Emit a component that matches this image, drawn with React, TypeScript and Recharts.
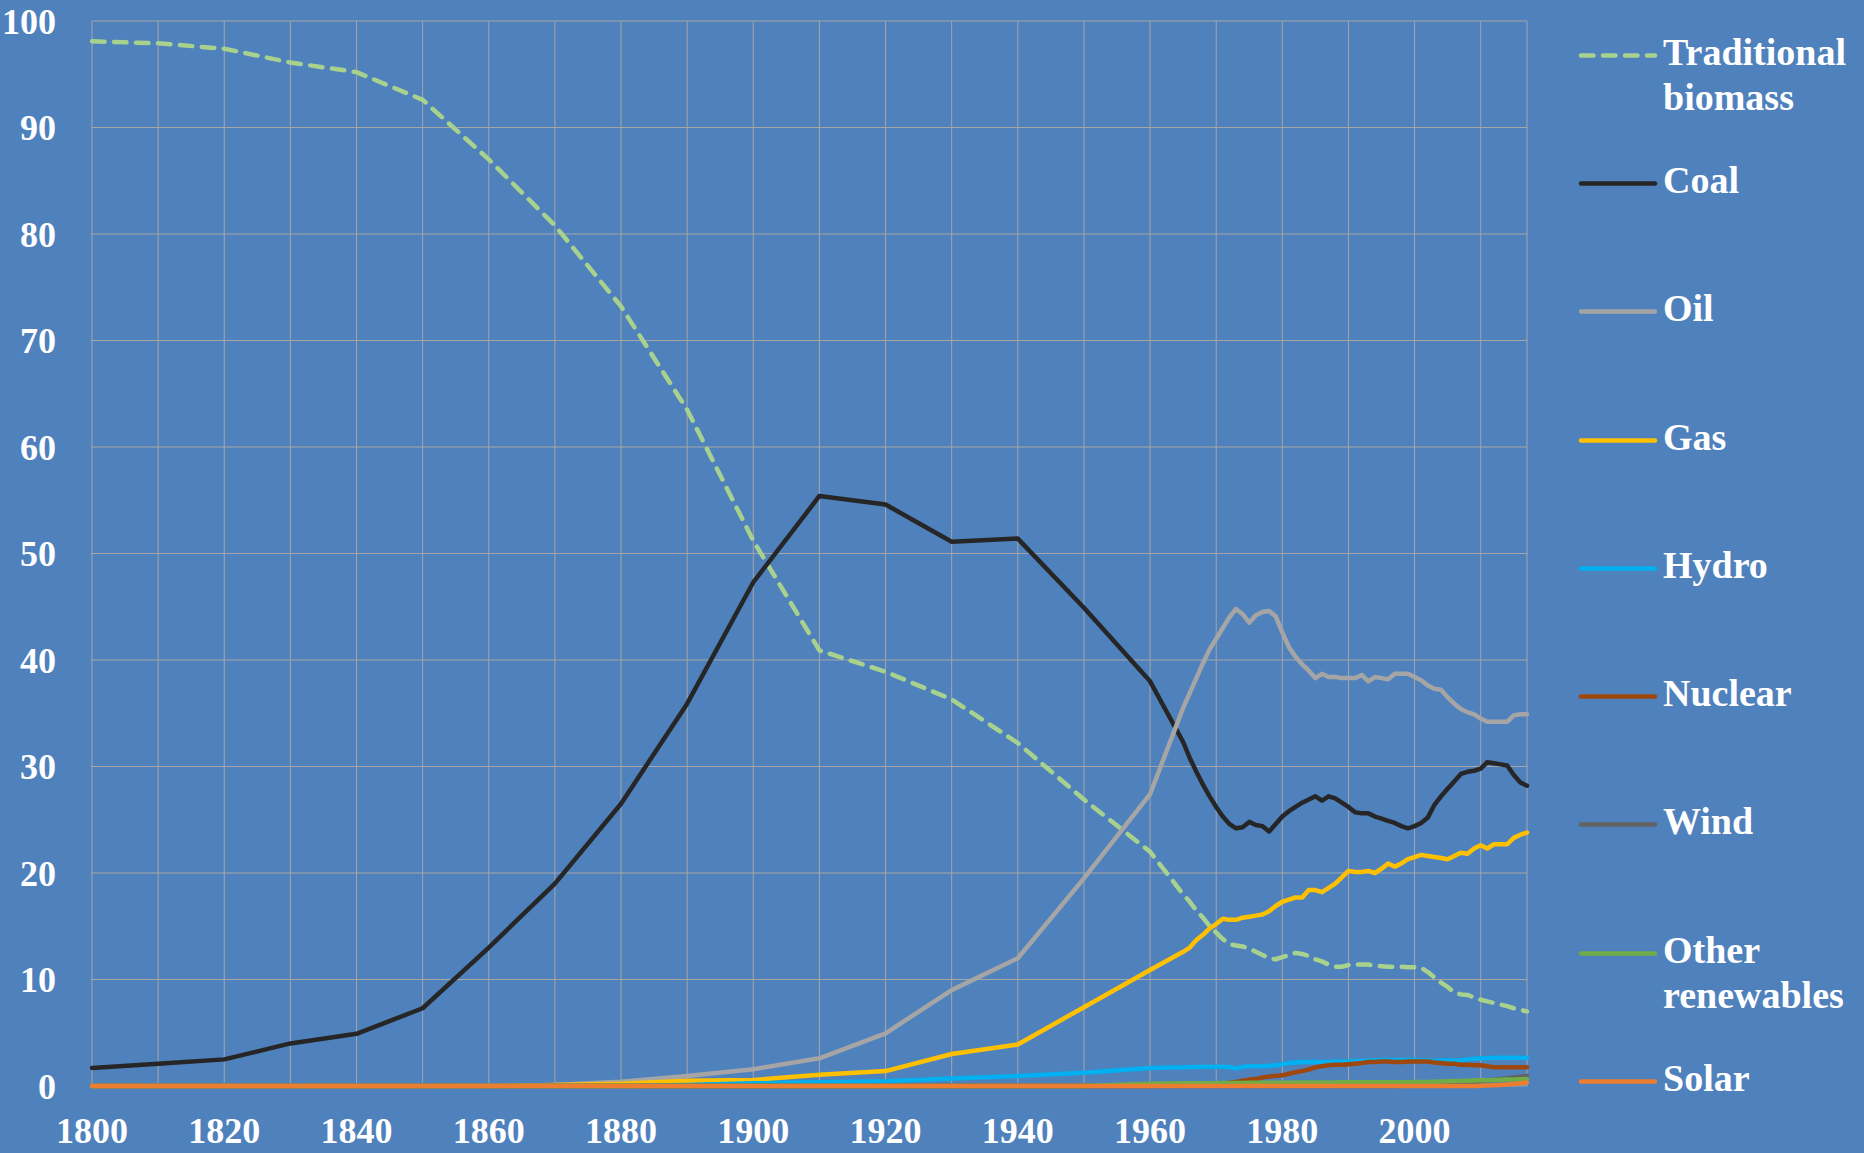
import { LineChart, Line, XAxis, YAxis, CartesianGrid } from 'recharts';

// decades 1800-1960, then annual 1965-2017
const years = [
  1800, 1810, 1820, 1830, 1840, 1850, 1860, 1870, 1880, 1890, 1900, 1910, 1920, 1930, 1940, 1950, 1960,
  1965, 1966, 1967, 1968, 1969, 1970, 1971, 1972, 1973, 1974,
  1975, 1976, 1977, 1978, 1979, 1980, 1981, 1982, 1983, 1984,
  1985, 1986, 1987, 1988, 1989, 1990, 1991, 1992, 1993, 1994,
  1995, 1996, 1997, 1998, 1999, 2000, 2001, 2002, 2003, 2004,
  2005, 2006, 2007, 2008, 2009, 2010, 2011, 2012, 2013, 2014,
  2015, 2016, 2017,
];

const biomass = [
  98.1, 97.9, 97.4, 96.1, 95.2, 92.6, 87.0, 80.8, 73.2, 63.5, 51.2, 40.9, 38.9, 36.3, 32.2, 26.9, 22.0,
  18.0, 17.3, 16.5, 15.8, 15.0, 14.4, 13.8, 13.3, 13.2, 13.1,
  12.9, 12.6, 12.3, 12.0, 11.9, 12.1, 12.3, 12.5, 12.4, 12.2,
  11.9, 11.7, 11.4, 11.2, 11.2, 11.35, 11.4, 11.4, 11.4, 11.3,
  11.25, 11.2, 11.2, 11.2, 11.15, 11.15, 11.1, 10.7, 10.2, 9.7,
  9.3, 8.8, 8.6, 8.55, 8.3, 8.1, 7.95, 7.8, 7.65, 7.5,
  7.3, 7.15, 7.0,
];

const coal = [
  1.7, 2.1, 2.5, 4.0, 4.9, 7.3, 13.0, 19.0, 26.5, 35.9, 47.3, 55.4, 54.6, 51.1, 51.4, 44.9, 38.0,
  32.3, 30.8, 29.5, 28.3, 27.2, 26.2, 25.3, 24.6, 24.2, 24.3,
  24.8, 24.5, 24.4, 23.9, 24.6, 25.3, 25.8, 26.2, 26.6, 26.9,
  27.2, 26.8, 27.2, 27.0, 26.6, 26.2, 25.7, 25.6, 25.6, 25.3,
  25.1, 24.9, 24.7, 24.4, 24.2, 24.4, 24.7, 25.2, 26.4, 27.2,
  27.9, 28.6, 29.3, 29.5, 29.6, 29.8, 30.4, 30.3, 30.2, 30.1,
  29.2, 28.5, 28.2,
];

const oil = [
  0, 0, 0, 0, 0, 0, 0.02, 0.1, 0.4, 0.94, 1.57, 2.6, 4.95, 9.0, 12.0, 19.5, 27.4,
  35.5, 36.9, 38.3, 39.7, 41.0, 42.0, 43.0, 44.0, 44.8, 44.3,
  43.5, 44.2, 44.5, 44.6, 44.1, 42.6, 41.2, 40.3, 39.6, 39.0,
  38.3, 38.7, 38.4, 38.4, 38.3, 38.3, 38.3, 38.6, 38.0, 38.4,
  38.3, 38.2, 38.7, 38.7, 38.7, 38.4, 38.1, 37.6, 37.3, 37.2,
  36.5, 35.9, 35.4, 35.1, 34.9, 34.5, 34.2, 34.2, 34.2, 34.2,
  34.8, 34.9, 34.9,
];

const gas = [
  0, 0, 0, 0, 0, 0, 0, 0.1, 0.2, 0.5, 0.56, 1.06, 1.4, 3.0, 3.9, 7.4, 10.9,
  12.6, 13.0, 13.7, 14.2, 14.8, 15.2, 15.7, 15.6, 15.6, 15.8,
  15.9, 16.0, 16.1, 16.4, 16.9, 17.3, 17.5, 17.7, 17.7, 18.4,
  18.4, 18.2, 18.6, 19.0, 19.6, 20.2, 20.1, 20.1, 20.2, 20.0,
  20.4, 20.9, 20.6, 20.9, 21.3, 21.5, 21.7, 21.6, 21.5, 21.4,
  21.3, 21.6, 21.9, 21.8, 22.3, 22.6, 22.3, 22.7, 22.7, 22.7,
  23.3, 23.6, 23.8,
];

const hydro = [
  0, 0, 0, 0, 0, 0, 0, 0, 0, 0.1, 0.25, 0.35, 0.45, 0.7, 0.94, 1.25, 1.7,
  1.75, 1.78, 1.78, 1.8, 1.8, 1.8, 1.8, 1.78, 1.65, 1.8,
  1.85, 1.85, 1.85, 1.9, 1.95, 2.05, 2.15, 2.2, 2.25, 2.25,
  2.25, 2.25, 2.25, 2.3, 2.3, 2.3, 2.35, 2.35, 2.4, 2.4,
  2.45, 2.45, 2.45, 2.45, 2.45, 2.45, 2.4, 2.4, 2.35, 2.4,
  2.4, 2.4, 2.4, 2.5, 2.55, 2.6, 2.6, 2.65, 2.65, 2.65,
  2.65, 2.65, 2.65,
];

const nuclear = [
  0, 0, 0, 0, 0, 0, 0, 0, 0, 0, 0, 0, 0, 0, 0, 0, 0,
  0.05, 0.06, 0.08, 0.1, 0.12, 0.15, 0.2, 0.3, 0.38, 0.5,
  0.6, 0.65, 0.8, 0.9, 0.95, 1.0, 1.15, 1.3, 1.4, 1.55,
  1.75, 1.85, 1.95, 2.0, 2.0, 2.05, 2.1, 2.15, 2.25, 2.25,
  2.3, 2.3, 2.25, 2.25, 2.3, 2.3, 2.3, 2.3, 2.2, 2.15,
  2.1, 2.1, 2.0, 2.0, 1.95, 1.95, 1.85, 1.75, 1.75, 1.75,
  1.75, 1.75, 1.75,
];

const wind = [
  0, 0, 0, 0, 0, 0, 0, 0, 0, 0, 0, 0, 0, 0, 0, 0, 0,
  0, 0, 0, 0, 0, 0, 0, 0, 0, 0,
  0, 0, 0, 0, 0, 0, 0, 0, 0, 0,
  0, 0, 0, 0, 0, 0, 0, 0, 0, 0,
  0, 0, 0, 0.02, 0.03, 0.04, 0.05, 0.07, 0.09, 0.12,
  0.15, 0.2, 0.25, 0.3, 0.37, 0.45, 0.52, 0.6, 0.65, 0.72,
  0.8, 0.88, 0.95,
];

const otherRenewables = [
  0, 0, 0, 0, 0, 0, 0, 0, 0, 0, 0, 0, 0, 0, 0, 0, 0.2,
  0.25, 0.25, 0.26, 0.26, 0.27, 0.27, 0.28, 0.28, 0.28, 0.29,
  0.3, 0.3, 0.3, 0.3, 0.3, 0.31, 0.31, 0.32, 0.32, 0.33,
  0.33, 0.33, 0.34, 0.34, 0.35, 0.35, 0.35, 0.35, 0.35, 0.35,
  0.35, 0.35, 0.36, 0.36, 0.36, 0.37, 0.37, 0.38, 0.4, 0.42,
  0.44, 0.46, 0.48, 0.5, 0.52, 0.54, 0.55, 0.57, 0.58, 0.6,
  0.62, 0.64, 0.66,
];

const solar = [
  0, 0, 0, 0, 0, 0, 0, 0, 0, 0, 0, 0, 0, 0, 0, 0, 0,
  0, 0, 0, 0, 0, 0, 0, 0, 0, 0,
  0, 0, 0, 0, 0, 0, 0, 0, 0, 0,
  0, 0, 0, 0, 0, 0, 0, 0, 0, 0,
  0, 0, 0, 0, 0, 0, 0, 0, 0, 0,
  0, 0, 0, 0, 0, 0.02, 0.04, 0.07, 0.1, 0.14,
  0.19, 0.25, 0.32,
];

const xTicks = [1800, 1810, 1820, 1830, 1840, 1850, 1860, 1870, 1880, 1890, 1900, 1910, 1920, 1930, 1940, 1950, 1960, 1970, 1980, 1990, 2000, 2010];
const yTicks = [0, 10, 20, 30, 40, 50, 60, 70, 80, 90, 100];

const series = [
  { key: 'biomass', name: ['Traditional', 'biomass'], color: '#a9d18e', dashed: true },
  { key: 'coal', name: ['Coal'], color: '#262626' },
  { key: 'oil', name: ['Oil'], color: '#a5a5a5' },
  { key: 'gas', name: ['Gas'], color: '#ffc000' },
  { key: 'hydro', name: ['Hydro'], color: '#00b0f0' },
  { key: 'nuclear', name: ['Nuclear'], color: '#9e480e' },
  { key: 'wind', name: ['Wind'], color: '#636363' },
  { key: 'other', name: ['Other', 'renewables'], color: '#70ad47' },
  { key: 'solar', name: ['Solar'], color: '#ed7d31' },
];

const data = years.map((year, i) => ({
  year,
  biomass: biomass[i],
  coal: coal[i],
  oil: oil[i],
  gas: gas[i],
  hydro: hydro[i],
  nuclear: nuclear[i],
  wind: wind[i],
  other: otherRenewables[i],
  solar: solar[i],
}));

const font = '"Liberation Serif", "Times New Roman", serif';
const tickStyle = { fill: '#ffffff', fontSize: 36, fontFamily: font, fontWeight: 700 };

const LegendBox = () => (
  <div style={{ position: 'absolute', left: 1576, top: 0, width: 288, height: 1153 }}>
    {series.map((s, i) => (
      <div
        key={s.key}
        style={{ position: 'absolute', left: 0, top: 29.6 + i * 128.3, display: 'flex', alignItems: 'flex-start' }}
      >
        <svg width={84} height={45} style={{ flex: 'none' }}>
          <line
            x1={5}
            x2={79}
            y1={25.4}
            y2={25.4}
            stroke={s.color}
            strokeWidth={4.5}
            strokeLinecap="round"
            strokeDasharray={s.dashed ? '12.5 9.5' : undefined}
          />
        </svg>
        <div
          style={{
            marginLeft: 3,
            color: '#ffffff',
            fontFamily: font,
            fontWeight: 700,
            fontSize: 38,
            lineHeight: '45px',
            whiteSpace: 'nowrap',
          }}
        >
          {s.name.map((line) => (
            <div key={line}>{line}</div>
          ))}
        </div>
      </div>
    ))}
  </div>
);

export default function App() {
  return (
    <div style={{ position: 'absolute', left: 0, top: 0, width: 1864, height: 1153, background: '#4f81bd', overflow: 'hidden' }}>
      <LineChart width={1864} height={1153} data={data} margin={{ top: 21, right: 337, left: 0, bottom: 0 }}>
        <CartesianGrid stroke="#a6a6a6" strokeWidth={1} />
        <XAxis
          dataKey="year"
          type="number"
          domain={[1800, 2017]}
          ticks={xTicks}
          interval={0}
          tickFormatter={(v: number) => (v % 20 === 0 ? String(v) : '')}
          axisLine={false}
          tickLine={false}
          tickMargin={25}
          height={67}
          tick={tickStyle}
        />
        <YAxis
          type="number"
          domain={[0, 100]}
          ticks={yTicks}
          interval={0}
          axisLine={false}
          tickLine={false}
          tickMargin={30}
          width={92}
          tick={tickStyle}
        />
        {series.map((s) => (
          <Line
            key={s.key}
            type="linear"
            dataKey={s.key}
            stroke={s.color}
            strokeWidth={4.5}
            strokeLinejoin="round"
            strokeLinecap="round"
            strokeDasharray={s.dashed ? '12.5 9.5' : undefined}
            dot={false}
            activeDot={false}
            isAnimationActive={false}
          />
        ))}
      </LineChart>
      <LegendBox />
    </div>
  );
}
